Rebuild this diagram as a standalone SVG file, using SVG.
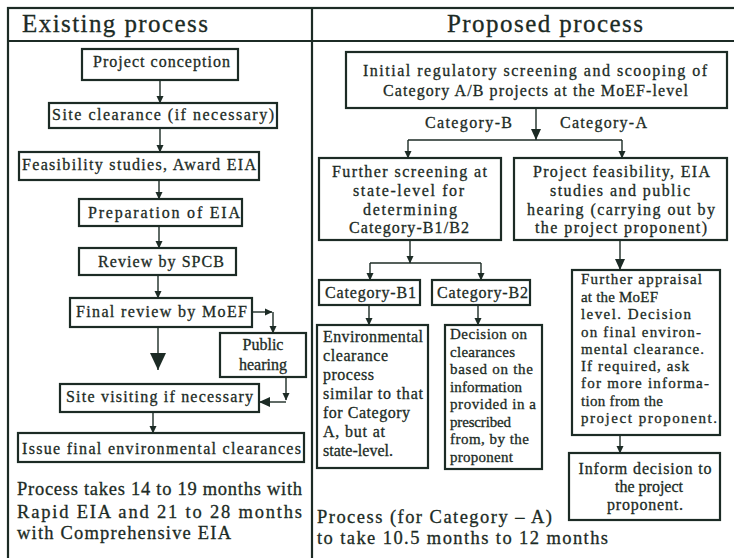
<svg xmlns="http://www.w3.org/2000/svg" width="734" height="558" viewBox="0 0 734 558">
<defs>
<marker id="ah" markerUnits="userSpaceOnUse" markerWidth="8" markerHeight="8" viewBox="0 0 8 8" refX="7" refY="4" orient="auto"><path d="M0,0.5 L7.5,4 L0,7.5 Z" fill="#1c2b25"/></marker>
<marker id="ahb" markerUnits="userSpaceOnUse" markerWidth="18" markerHeight="18" viewBox="0 0 18 18" refX="17" refY="9" orient="auto"><path d="M0,1 L17,9 L0,17 Z" fill="#1c2b25"/></marker>
<marker id="ahm" markerUnits="userSpaceOnUse" markerWidth="12" markerHeight="12" viewBox="0 0 12 12" refX="11" refY="6" orient="auto"><path d="M0,1 L11,6 L0,11 Z" fill="#1c2b25"/></marker>
</defs>
<style>
.bx{fill:#fff;stroke:#1c2b25;stroke-width:2.2}
.fr{fill:none;stroke:#1c2b25;stroke-width:2.2}
.t{font-family:"Liberation Serif","DejaVu Serif",serif;font-size:16px;fill:#1c2b25;stroke:#1c2b25;stroke-width:0.3}
.c{text-anchor:middle}
.s{font-size:15px}
.h{font-size:25px}
.n{font-size:18.5px}
.ln{fill:none;stroke:#1c2b25;stroke-width:1.4}
.a{marker-end:url(#ah)}
</style>
<rect x="0" y="0" width="734" height="558" fill="#fff"/>
<g id="frame">
<rect class="fr" x="8" y="8" width="740" height="560"/>
<line class="fr" x1="8" y1="41" x2="734" y2="41"/>
<line class="fr" x1="312" y1="8" x2="312" y2="558"/>
<text class="t h" x="22" y="32" textLength="186">Existing process</text>
<text class="t h" x="447" y="32" textLength="196">Proposed process</text>
</g>
<g id="connectors">
<line class="ln a" x1="160" y1="80" x2="160" y2="103"/>
<line class="ln a" x1="160" y1="128" x2="160" y2="152"/>
<line class="ln a" x1="159" y1="180" x2="159" y2="199"/>
<line class="ln a" x1="159" y1="226" x2="159" y2="248"/>
<line class="ln a" x1="158" y1="275" x2="158" y2="298"/>
<line class="ln" x1="158" y1="327" x2="158" y2="370" stroke-width="2" marker-end="url(#ahb)"/>
<line class="ln a" x1="252" y1="312" x2="272" y2="312"/>
<line class="ln a" x1="273" y1="312" x2="273" y2="333"/>
<line class="ln a" x1="286" y1="377" x2="286" y2="400"/>
<line class="ln" x1="286" y1="402" x2="259" y2="402" marker-end="url(#ahm)"/>
<line class="ln a" x1="153" y1="412" x2="153" y2="433"/>
<line class="ln" x1="536" y1="108" x2="536" y2="140" marker-end="url(#ahm)"/>
<line class="ln" x1="408" y1="140" x2="622" y2="140"/>
<line class="ln a" x1="408" y1="140" x2="408" y2="158"/>
<line class="ln a" x1="622" y1="140" x2="622" y2="158"/>
<line class="ln a" x1="410" y1="240" x2="410" y2="263"/>
<line class="ln" x1="370" y1="263" x2="481" y2="263"/>
<line class="ln a" x1="370" y1="263" x2="370" y2="280"/>
<line class="ln a" x1="481" y1="263" x2="481" y2="280"/>
<line class="ln a" x1="369" y1="305" x2="369" y2="325"/>
<line class="ln a" x1="478" y1="305" x2="478" y2="325"/>
<line class="ln" x1="620" y1="240" x2="620" y2="270" marker-end="url(#ahm)"/>
<line class="ln a" x1="620" y1="435" x2="620" y2="453"/>
</g>
<g id="n1"><rect class="bx" x="82" y="49" width="156" height="31"/><text class="t" x="93" y="67" textLength="137">Project conception</text></g>
<g id="n2"><rect class="bx" x="49" y="103" width="228" height="25"/><text class="t" x="52" y="120" textLength="222">Site clearance (if necessary)</text></g>
<g id="n3"><rect class="bx" x="19" y="152" width="240" height="28"/><text class="t" x="22" y="170" textLength="234">Feasibility studies, Award EIA</text></g>
<g id="n4"><rect class="bx" x="79" y="199" width="163" height="27"/><text class="t" x="88" y="218" textLength="152">Preparation of EIA</text></g>
<g id="n5"><rect class="bx" x="79" y="248" width="157" height="27"/><text class="t" x="98" y="267" textLength="126">Review by SPCB</text></g>
<g id="n6"><rect class="bx" x="70" y="298" width="182" height="29"/><text class="t" x="76" y="317" textLength="171">Final review by MoEF</text></g>
<g id="n7"><rect class="bx" x="220" y="333" width="86" height="44"/><text class="t c" x="263" y="350">Public</text><text class="t c" x="263" y="370">hearing</text></g>
<g id="n8"><rect class="bx" x="60" y="384" width="199" height="28"/><text class="t" x="66" y="402" textLength="187">Site visiting if necessary</text></g>
<g id="n9"><rect class="bx" x="18" y="433" width="286" height="29"/><text class="t" x="22" y="454" textLength="279">Issue final environmental clearances</text></g>
<g id="note1">
<text class="t n" x="17" y="495" textLength="285">Process takes 14 to 19 months with</text>
<text class="t n" x="17" y="518" textLength="285">Rapid EIA and 21 to 28 months</text>
<text class="t n" x="17" y="539" textLength="214">with Comprehensive EIA</text>
</g>
<g id="r1"><rect class="bx" x="346" y="52" width="381" height="56"/>
<text class="t" x="363" y="76" textLength="344">Initial regulatory screening and scooping of</text>
<text class="t" x="383" y="96" textLength="305">Category A/B projects at the MoEF-level</text></g>
<g id="lblB"><text class="t" x="425" y="128" textLength="87">Category-B</text></g>
<g id="lblA"><text class="t" x="560" y="128" textLength="87">Category-A</text></g>
<g id="r2"><rect class="bx" x="319" y="158" width="182" height="82"/>
<text class="t" x="332" y="177" textLength="155">Further screening at</text>
<text class="t" x="353" y="196" textLength="111">state-level for</text>
<text class="t" x="363" y="215" textLength="94">determining</text>
<text class="t" x="349" y="233" textLength="120">Category-B1/B2</text></g>
<g id="r3"><rect class="bx" x="514" y="158" width="213" height="82"/>
<text class="t" x="533" y="177" textLength="177">Project feasibility, EIA</text>
<text class="t" x="550" y="196" textLength="140">studies and public</text>
<text class="t" x="527" y="215" textLength="188">hearing (carrying out by</text>
<text class="t" x="535" y="233" textLength="172">the project proponent)</text></g>
<g id="r4"><rect class="bx" x="319" y="280" width="101" height="25"/><text class="t" x="325" y="298" textLength="91">Category-B1</text></g>
<g id="r5"><rect class="bx" x="432" y="280" width="98" height="25"/><text class="t" x="437" y="298" textLength="91">Category-B2</text></g>
<g id="r6"><rect class="bx" x="317" y="325" width="111" height="143"/>
<text class="t" x="323" y="342" textLength="100">Environmental</text>
<text class="t" x="323" y="361" textLength="65">clearance</text>
<text class="t" x="323" y="380" textLength="51">process</text>
<text class="t" x="323" y="399" textLength="100">similar to that</text>
<text class="t" x="323" y="418" textLength="87">for Category</text>
<text class="t" x="323" y="437" textLength="62">A, but at</text>
<text class="t" x="323" y="456" textLength="70">state-level.</text></g>
<g id="r7"><rect class="bx" x="445" y="325" width="97" height="144"/>
<text class="t s" x="450" y="339" textLength="77">Decision on</text>
<text class="t s" x="450" y="357" textLength="65">clearances</text>
<text class="t s" x="450" y="374" textLength="83">based on the</text>
<text class="t s" x="450" y="392" textLength="72">information</text>
<text class="t s" x="450" y="409" textLength="86">provided in a</text>
<text class="t s" x="450" y="427" textLength="61">prescribed</text>
<text class="t s" x="450" y="444" textLength="79">from, by the</text>
<text class="t s" x="450" y="462" textLength="63">proponent</text></g>
<g id="r8"><rect class="bx" x="572" y="270" width="148" height="165"/>
<text class="t s" x="581" y="284" textLength="121">Further appraisal</text>
<text class="t s" x="581" y="302" textLength="77">at the MoEF</text>
<text class="t s" x="581" y="319" textLength="110">level.  Decision</text>
<text class="t s" x="581" y="337" textLength="120">on final environ-</text>
<text class="t s" x="581" y="354" textLength="123">mental clearance.</text>
<text class="t s" x="581" y="371" textLength="108">If required, ask</text>
<text class="t s" x="581" y="388" textLength="128">for more informa-</text>
<text class="t s" x="581" y="406" textLength="82">tion from the</text>
<text class="t s" x="581" y="423" textLength="136">project proponent.</text></g>
<g id="r9"><rect class="bx" x="569" y="453" width="151" height="67"/>
<text class="t c" x="645" y="474" textLength="133">Inform decision to</text>
<text class="t c" x="649" y="492" textLength="68">the project</text>
<text class="t c" x="645" y="510" textLength="76">proponent.</text></g>
<g id="note2">
<text class="t n" x="317" y="523" textLength="235">Process (for Category – A)</text>
<text class="t n" x="317" y="544" textLength="291">to take 10.5 months to 12 months</text>
</g>
</svg>
